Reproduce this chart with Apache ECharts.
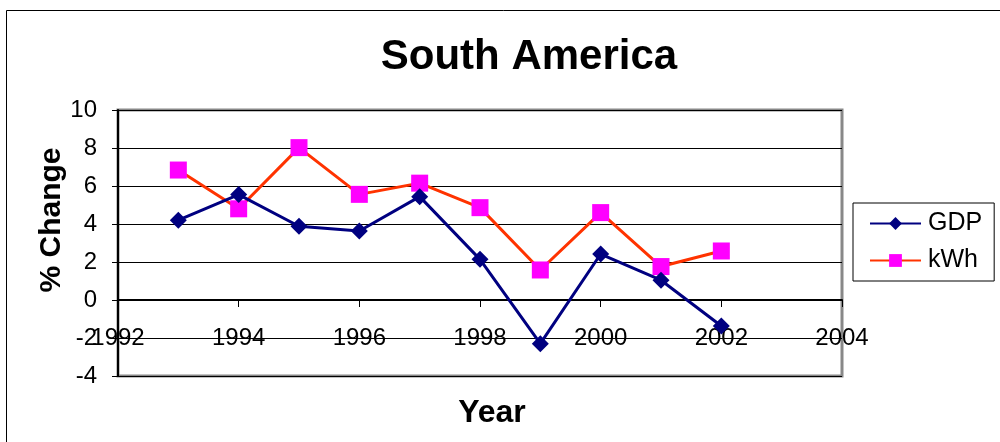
<!DOCTYPE html>
<html>
<head>
<meta charset="utf-8">
<script src="https://cdn.jsdelivr.net/npm/echarts@6/dist/echarts.min.js"></script>
<style>
  html, body { margin: 0; padding: 0; background: #fff; }
  #chart { width: 1000px; height: 442px; }
</style>
</head>
<body>
<div id="chart"></div>
<script>
// Annual % change, South America
var years = [1993, 1994, 1995, 1996, 1997, 1998, 1999, 2000, 2001, 2002];
var gdp   = [4.2, 5.55, 3.88, 3.63, 5.44, 2.14, -2.3, 2.42, 1.04, -1.37];
var kwh   = [6.84, 4.8, 8.02, 5.56, 6.15, 4.86, 1.58, 4.6, 1.76, 2.58];

var xMin = 1992, xMax = 2004, xStep = 2;
var yMin = -4, yMax = 10, yStep = 2;

function pairs(xs, ys) {
  return xs.map(function (x, i) { return [x, ys[i]]; });
}

var FONT = '"Liberation Sans", Arial, sans-serif';

var chart = echarts.init(document.getElementById('chart'), null, { renderer: 'canvas' });

chart.setOption({
  backgroundColor: '#ffffff',
  animation: false,
  title: {
    text: 'South America',
    left: 524,
    top: 31,
    textAlign: 'center',
    textStyle: { fontFamily: FONT, fontSize: 42, fontWeight: 'bold', color: '#000' }
  },
  graphic: [
    {
      type: 'rect',
      shape: { x: 6.5, y: 10.5, width: 1100, height: 600 },
      style: { fill: null, stroke: '#000', lineWidth: 1 },
      silent: true
    },
    {
      type: 'text',
      x: 52, y: 220,
      rotation: Math.PI / 2,
      style: {
        text: '% Change', fontFamily: FONT, fontSize: 30, fontWeight: 'bold',
        fill: '#000', textAlign: 'center', textVerticalAlign: 'middle'
      }
    },
    {
      type: 'text',
      x: 492, y: 413,
      style: {
        text: 'Year', fontFamily: FONT, fontSize: 32, fontWeight: 'bold',
        fill: '#000', textAlign: 'center', textVerticalAlign: 'middle'
      }
    }
  ],
  grid: {
    left: 118, right: 158, top: 110, bottom: 66,
    show: true, borderColor: '#888888', borderWidth: 3, backgroundColor: '#ffffff'
  },
  legend: {
    orient: 'vertical',
    left: 853, top: 203,
    padding: [8, 12, 8, 16],
    itemGap: 12,
    itemWidth: 51,
    itemHeight: 16,
    borderColor: '#000', borderWidth: 1,
    backgroundColor: '#fff',
    textStyle: { fontFamily: FONT, fontSize: 25, color: '#000', lineHeight: 24, padding: [0, 0, 0, 2] },
    data: ['GDP', 'kWh']
  },
  xAxis: {
    type: 'value',
    min: xMin, max: xMax, interval: xStep,
    axisLine: { onZero: true, lineStyle: { color: '#000', width: 2 } },
    axisTick: { show: true, length: 7, inside: false, lineStyle: { color: '#000', width: 1 } },
    axisLabel: {
      show: true, margin: -50, showMinLabel: true, showMaxLabel: true,
      fontFamily: FONT, fontSize: 24, color: '#000',
      formatter: function (v) { return String(v); }
    },
    splitLine: { show: false }
  },
  yAxis: {
    type: 'value',
    min: yMin, max: yMax, interval: yStep,
    axisLine: { show: true, onZero: false, lineStyle: { color: '#000', width: 2 } },
    axisTick: { show: true, length: 6, lineStyle: { color: '#000', width: 1 } },
    axisLabel: { margin: 21, fontFamily: FONT, fontSize: 24, color: '#000' },
    splitLine: { show: true, lineStyle: { color: '#000', width: 1 } }
  },
  series: [
    {
      name: 'GDP',
      type: 'line',
      data: pairs(years, gdp),
      symbol: 'diamond',
      symbolSize: 17,
      lineStyle: { color: '#000080', width: 3 },
      itemStyle: { color: '#000080' },
      z: 3
    },
    {
      name: 'kWh',
      type: 'line',
      data: pairs(years, kwh),
      symbol: 'rect',
      symbolSize: 17,
      lineStyle: { color: '#FF3300', width: 3 },
      itemStyle: { color: '#FF00FF' },
      z: 2
    }
  ]
});
</script>
</body>
</html>
